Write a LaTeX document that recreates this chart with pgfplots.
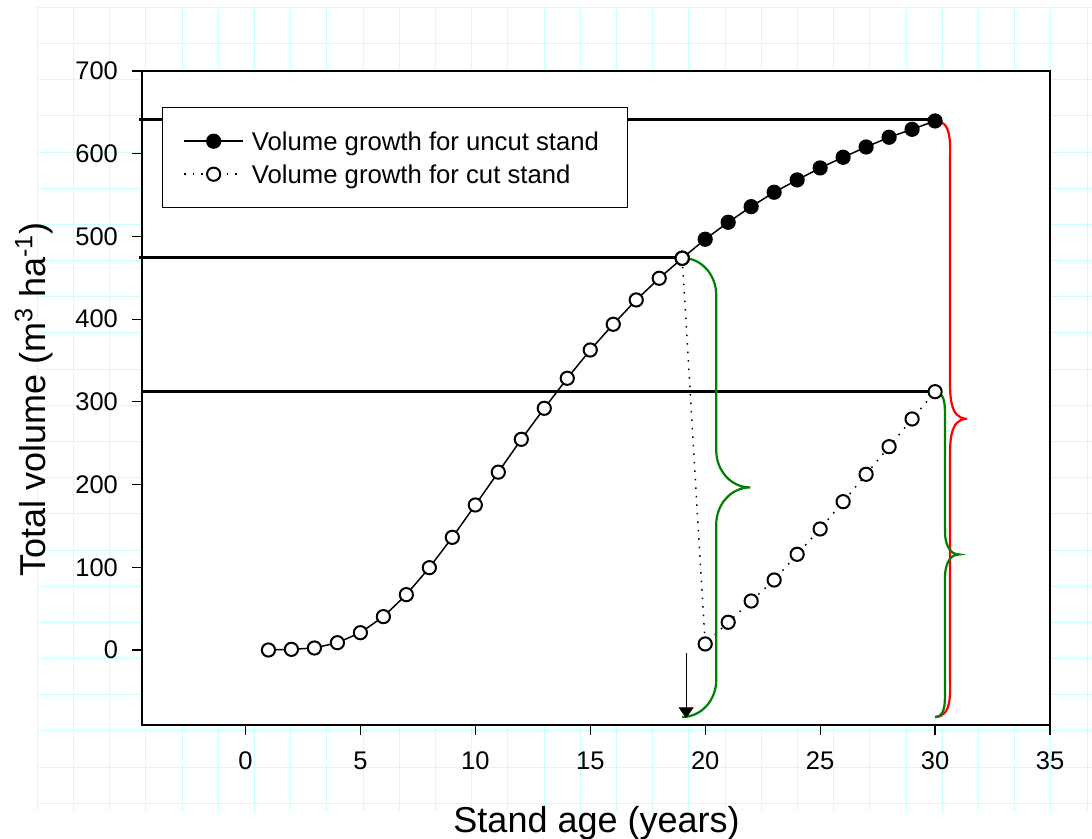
\documentclass[border=0pt]{standalone}
\usepackage{fontspec}
\setmainfont{Liberation Sans}
\usepackage{pgfplots}
\pgfplotsset{compat=1.18}
\usetikzlibrary{arrows.meta}
\definecolor{gridcyan}{RGB}{200,255,255}
\definecolor{bracegreen}{RGB}{0,128,0}
\begin{document}
\begin{tikzpicture}
\begin{scope}[x=0.5pt,y=-0.5pt]
 \foreach \k in {0,...,29} \draw[gridcyan,line width=0.5pt] ({37.3+36.2*\k},7) -- ({37.3+36.2*\k},811);
 \foreach \k in {0,...,22} \draw[gridcyan,line width=0.5pt] (37,{7.3+36.18*\k}) -- (1092,{7.3+36.18*\k});
\end{scope}
\begin{axis}[
 at={(71pt,-362.5pt)}, anchor=south west,
 scale only axis, width=454pt, height=327pt,
 xmin=-4.5, xmax=35, ymin=-90.7, ymax=700,
 clip=false,
 axis background/.style={fill=white},
 axis line style={line width=0.9pt},
 xtick={0,5,...,35}, ytick={0,100,...,700},
 xtick pos=left, ytick pos=left,
 tick align=outside, major tick length=5pt,
 tick style={line width=0.6pt, black},
 tick label style={font=\fontsize{12.75}{15}\selectfont},
 xticklabel style={yshift=-5pt},
 yticklabel style={xshift=-3.5pt},
 /pgf/number format/assume math mode=true,
 xlabel={Stand age (years)},
 ylabel={Total volume (m\textsuperscript{3} ha\textsuperscript{-1})},
 label style={font=\fontsize{18}{21}\selectfont},
 xlabel style={at={(axis description cs:0.5006,-0.1636)}, anchor=base},
 ylabel style={at={(axis description cs:-0.1068,0.498)}, anchor=base},
 legend style={at={(axis description cs:0.022,0.945)}, anchor=north west, draw=black, line width=0.75pt, fill=white,
   minimum width=232.5pt, minimum height=50pt, font=\fontsize{12.85}{15}\selectfont, row sep=2pt,
   nodes={minimum width=0pt, minimum height=0pt, inner xsep=4pt, inner ysep=1pt, text height=11pt, text depth=1.5pt}},
 legend cell align=left,
 legend image code/.code={\draw[mark repeat=2,mark phase=2,#1] plot coordinates {(-2pt,0pt) (12.75pt,0pt) (27.5pt,0pt)};},
]
% reference lines
\addplot[black, line width=1.4pt, forget plot] coordinates {(-4.65,641.8) (30,641.8)};
\addplot[black, line width=1.3pt, forget plot] coordinates {(-4.65,474.8) (19,474.8)};
\addplot[black, line width=1.3pt, forget plot] coordinates {(-4.45,312.3) (30,312.3)};
% uncut stand
\addplot[black, line width=0.75pt, mark=*, mark size=3.4pt, mark options={fill=black, line width=0.8pt}] coordinates {
 (19,473.6) (20,496.6) (21,517.1) (22,536.0) (23,553.4) (24,568.3) (25,582.8) (26,595.7) (27,608.1) (28,619.9) (29,629.5) (30,639.6)};
\addlegendentry{Volume growth for uncut stand}
% growth before cut
\addplot[black, line width=0.75pt, mark=*, mark size=3.3pt, mark options={fill=white, line width=1pt}, forget plot] coordinates {
 (1,0.0) (2,0.8) (3,2.4) (4,8.8) (5,20.9) (6,40.3) (7,66.9) (8,99.5) (9,136.2) (10,175.3)
 (11,215.0) (12,254.7) (13,292.2) (14,328.5) (15,362.7) (16,393.8) (17,423.2) (18,449.4) (19,473.6)};
% cut stand
\addplot[black, line width=0.75pt, dash pattern=on 0.75pt off 3.5pt, mark=*, mark size=3.3pt, mark options={solid, fill=white, line width=1pt}] coordinates {
 (19,473.6) (20,7.3) (21,33.5) (22,59.2) (23,84.6) (24,115.7) (25,146.3) (26,179.3) (27,212.4) (28,245.8) (29,279.3) (30,312.3)};
\addlegendentry{Volume growth for cut stand}
% braces
\draw[bracegreen, line width=1.1pt] (axis cs:19,474) to[out=0,in=90] (axis cs:20.48,429.3) -- (axis cs:20.48,241.2)
  to[out=-90,in=180] (axis cs:21.96,196.5) to[out=180,in=90] (axis cs:20.48,151.8) -- (axis cs:20.48,-36.3)
  to[out=-90,in=0] (axis cs:19,-81);
\draw[red, line width=1.1pt] (axis cs:30,640) to[out=0,in=90] (axis cs:30.65,589.2) -- (axis cs:30.65,330.3)
  to[out=-90,in=180] (axis cs:31.39,279.5) to[out=180,in=90] (axis cs:30.65,228.7) -- (axis cs:30.65,-30.2)
  to[out=-90,in=0] (axis cs:30,-81);
\draw[bracegreen, line width=1.1pt] (axis cs:30,312) to[out=0,in=90] (axis cs:30.43,284.2) -- (axis cs:30.43,143.3)
  to[out=-90,in=180] (axis cs:31.04,115.5) to[out=180,in=90] (axis cs:30.43,87.7) -- (axis cs:30.43,-53.2)
  to[out=-90,in=0] (axis cs:30,-81);
% arrow
\draw[-{Triangle[width=7.5pt,length=5.5pt]}, line width=0.6pt] (axis cs:19.17,-4) -- (axis cs:19.17,-82.6);
\end{axis}
\pgfresetboundingbox
\path (0,0) rectangle (546pt,-419.5pt);
\end{tikzpicture}
\end{document}
